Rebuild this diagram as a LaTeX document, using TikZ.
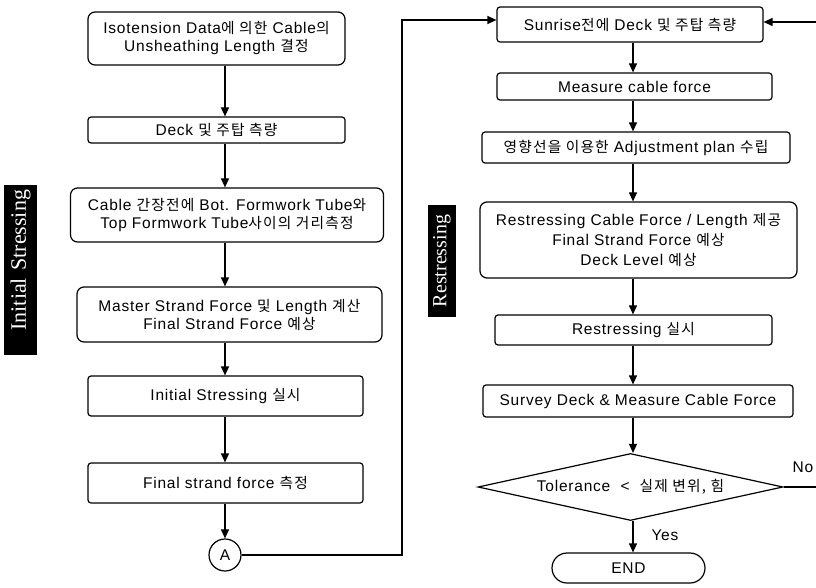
\documentclass[tikz,border=0pt]{standalone}
\usepackage{fontspec}
\setmainfont{Liberation Sans}[LetterSpace=5]
\newfontfamily\krfont[Scale=0.95,LetterSpace=8]{Noto Sans CJK KR}
\newfontfamily\labelfont{Liberation Serif}
\usetikzlibrary{arrows.meta,shapes.geometric}
\newcommand\kr[1]{{\krfont #1}}

\begin{document}
\begin{tikzpicture}[x=1pt,y=-1pt,
    every node/.style={font=\fontsize{15.5}{18}\selectfont},
    procbox/.style={draw, line width=1.2pt, rounded corners=3pt, inner sep=0pt, align=center},
    bigbox/.style={procbox, rounded corners=7pt},
    conn/.style={line width=1.2pt, -{Triangle[length=9pt,width=8pt]}},
    sidelabel/.style={fill=black, text=white, rotate=90, align=center,
        font=\labelfont\fontsize{22}{24}\selectfont, inner xsep=5pt, inner ysep=0pt}]
    \clip (0,0) rectangle (816,588);
    % Initial stressing column
    \node[bigbox, minimum width=257, minimum height=53] (iso) at (216.5,38.5)
        {Isotension Data\kr{에 의한} Cable\kr{의}\\Unsheathing Length \kr{결정}};
    \node[procbox, minimum width=257, minimum height=26] (deck) at (216.5,130) {Deck \kr{및 주탑 측량}};
    \node[bigbox, minimum width=313, minimum height=54] (tube) at (227,215)
        {Cable \kr{간장전에} Bot. Formwork Tube\kr{와}\\Top Formwork Tube\kr{사이의 거리측정}};
    \node[bigbox, minimum width=305, minimum height=55] (master) at (229.5,314.5)
        {Master Strand Force \kr{및} Length \kr{계산}\\Final Strand Force \kr{예상}};
    \node[procbox, minimum width=275, minimum height=40] (init) at (225.5,396) {Initial Stressing \kr{실시}};
    \node[procbox, minimum width=275, minimum height=40] (final) at (225.5,483) {Final strand force \kr{측정}};
    \node[draw, circle, line width=1.2pt, minimum size=32, inner sep=0pt] (A) at (225,555) {A};
    % Restressing column
    \node[procbox, minimum width=266, minimum height=35] (sunrise) at (630,24.5) {Sunrise\kr{전에} Deck \kr{및 주탑 측량}};
    \node[procbox, minimum width=275, minimum height=27] (measure) at (634.5,86.5) {Measure cable force};
    \node[procbox, minimum width=308, minimum height=31] (plan) at (636,147.5) {\kr{영향선을 이용한} Adjustment plan \kr{수립}};
    \node[bigbox, minimum width=317, minimum height=76, font=\fontsize{15.5}{20}\selectfont] (restr) at (638.5,240)
        {Restressing Cable Force / Length \kr{제공}\\Final Strand Force \kr{예상}\\Deck Level \kr{예상}};
    \node[procbox, minimum width=277, minimum height=30] (redo) at (633.5,330) {Restressing \kr{실시}};
    \node[procbox, minimum width=310, minimum height=32] (survey) at (638,401) {Survey Deck \& Measure Cable Force};
    \node[draw, diamond, aspect=4.55, line width=1.2pt, inner sep=0pt, minimum width=305, minimum height=67] (tol)
        at (630.5,487) {Tolerance~~<~~\kr{실제 변위, 힘}};
    \node[draw, line width=1.2pt, rounded corners=15pt, minimum width=153, minimum height=30, inner sep=0pt] (fin)
        at (628.5,568) {END};
    \node[anchor=west] (yes) at (648,535) {Yes};
    \node (no) at (803,467) {No};
    % Side labels
    \node[sidelabel, align=right, minimum height=33, text width=160] (initlab) at (20.5,270) {Initial Stressing};
    \node[sidelabel, font=\labelfont\fontsize{20}{22}\selectfont, minimum height=28, text width=102] (restrlab)
        at (442,261) {Restressing};
    % Connectors
    \coordinate (lcol) at (225,0);
    \coordinate (rcol) at (633,0);
    \coordinate (loopx) at (402,0);
    \coordinate (edge) at (820,0);
    \draw[conn] (iso.south -| lcol) -- (deck.north -| lcol);
    \draw[conn] (deck.south -| lcol) -- (tube.north -| lcol);
    \draw[conn] (tube.south -| lcol) -- (master.north -| lcol);
    \draw[conn] (master.south -| lcol) -- (init.north -| lcol);
    \draw[conn] (init.south -| lcol) -- (final.north -| lcol);
    \draw[conn] (final.south -| lcol) -- (A.north);
    \draw[conn] (A.east) -| ([yshift=4.5pt]sunrise.west -| loopx) -- ([yshift=4.5pt]sunrise.west);
    \draw[conn] (sunrise.south -| rcol) -- (measure.north -| rcol);
    \draw[conn] (measure.south -| rcol) -- (plan.north -| rcol);
    \draw[conn] (plan.south -| rcol) -- (restr.north -| rcol);
    \draw[conn] (restr.south -| rcol) -- (redo.north -| rcol);
    \draw[conn] (redo.south -| rcol) -- (survey.north -| rcol);
    \draw[conn] (survey.south -| rcol) -- (tol.north -| rcol);
    \draw[conn] (tol.south -| rcol) -- (fin.north -| rcol);
    \draw[conn] (tol.east) -| ([yshift=2.5pt]sunrise.east -| edge) -- ([yshift=2.5pt]sunrise.east);
\end{tikzpicture}
\end{document}
